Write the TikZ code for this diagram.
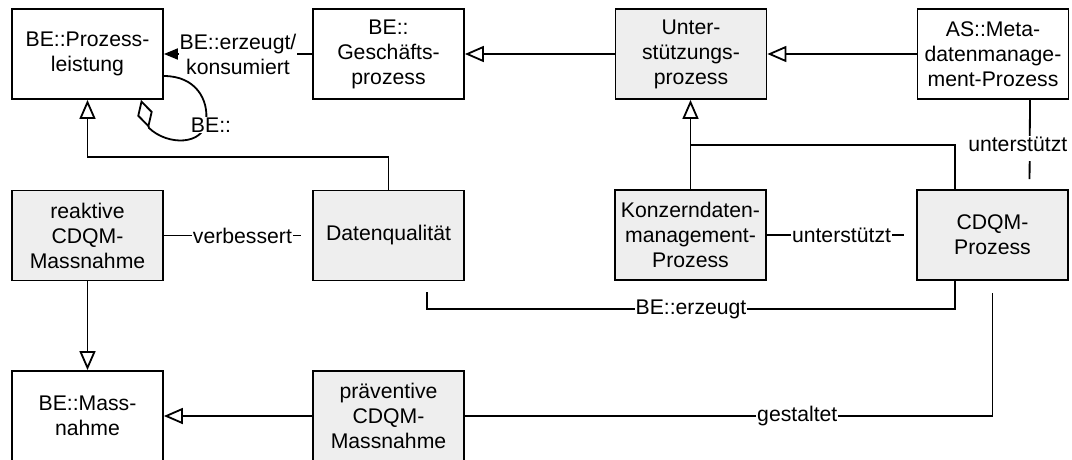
\documentclass[tikz,border=0pt]{standalone}
\usepackage{fontspec}
\setmainfont{Liberation Sans}
\usetikzlibrary{arrows.meta}
\definecolor{boxgray}{RGB}{238,238,238}
\begin{document}
\begin{tikzpicture}[x=1pt,y=-1pt,
  txt/.style={font=\fontsize{21.2}{25}\selectfont},
  cls/.style={txt, draw, line width=1.8pt, minimum width=151pt, minimum height=90pt,
              align=center, inner sep=0pt, fill=white},
  clsgray/.style={cls, fill=boxgray},
  conn/.style={line width=1.8pt},
  gen/.style={conn, -{Triangle[open, length=19pt, width=16pt]}},
  lbl/.style={txt, fill=white, inner xsep=1pt, inner ysep=1pt, align=center},
]
\clip (0,0) rectangle (1072,459);
\fill[white] (0,0) rectangle (1072,459);

% classes
\node[cls]     (pl) at (87.5,54)   {BE::Prozess-\\leistung};
\node[cls]     (gp) at (388.5,54)  {BE::\\Geschäfts-\\prozess};
\node[clsgray] (up) at (691,54)    {Unter-\\stützungs-\\prozess};
\node[cls]     (am) at (993,54)    {AS::Meta-\\datenmanage-\\ment-Prozess};
\node[clsgray] (rm) at (87.5,235.5) {reaktive\\CDQM-\\Massnahme};
\node[clsgray] (dq) at (388.5,235.5) {Datenqualität};
\node[clsgray] (kd) at (690.5,235) {Konzerndaten-\\management-\\Prozess};
\node[clsgray] (cp) at (992.5,235) {CDQM-\\Prozess};
\node[cls]     (bm) at (87.5,416)  {BE::Mass-\\nahme};
\node[clsgray] (pm) at (388.5,416) {präventive\\CDQM-\\Massnahme};

% generalisations
\draw[gen] (up.west) -- (gp.east);
\draw[gen] (am.west) -- (up.east);
\draw[gen] (dq.north) -- ++(0,-33) -| (pl.south);
\draw[gen] (kd.north) -- (kd.north |- up.south);
\coordinate (j) at (690.5,145);
\draw[conn] ([xshift=-37.5pt]cp.north) |- (j);
\draw[gen] (rm.south) -- (bm.north);
\draw[gen] (pm.west) -- (bm.east);

% associations
\draw[conn, -{Triangle[length=14pt, width=11pt]}] (gp.west)
  -- node[lbl]{BE::erzeugt/\\konsumiert} (pl.east);
\draw[conn, -{Diamond[open, length=29pt, width=16pt]}] ([yshift=-22pt]pl.east)
  .. controls (196,76) and (209,100) .. (206,122)
  node[lbl, xshift=5pt, yshift=-3pt]{BE::}
  .. controls (203,145) and (168,146) .. (149,128) -- ([xshift=53.5pt]pl.south);
\draw[conn, shorten >=11pt] (rm.east) -- node[lbl, pos=0.53]{verbessert} (dq.west);
\draw[conn, shorten >=12pt] (kd.east) -- node[lbl]{unterstützt} (cp.west);
\draw[conn, shorten >=10pt] ([xshift=37pt]am.south) -- node[lbl, xshift=-12pt, yshift=-4pt, text depth=9pt]{unterstützt} ([xshift=37pt]cp.north);
\draw[conn, shorten >=11pt] ([xshift=-37.5pt]cp.south) -- ++(0,28)
  -- node[lbl]{BE::erzeugt} ++(-528,0) -- ([xshift=38.5pt]dq.south);
\draw[conn, shorten >=12pt] (pm.east) -- node[lbl, pos=0.63]{gestaltet} (pm.east -| cp.south) -- (cp.south);
\end{tikzpicture}
\end{document}
